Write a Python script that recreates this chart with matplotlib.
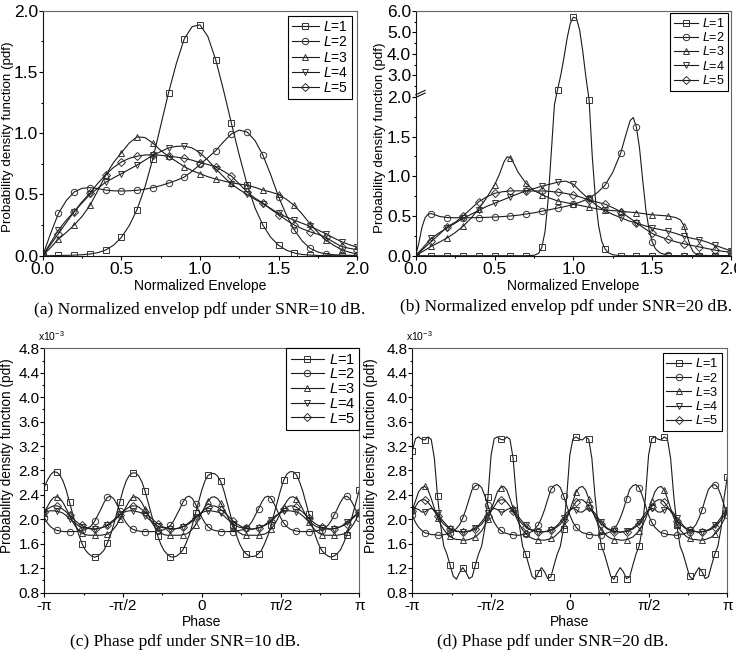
import numpy as np
import matplotlib
matplotlib.use('Agg')
import matplotlib.pyplot as plt
from matplotlib.ticker import MultipleLocator, FixedLocator, FormatStrFormatter

plt.rcParams['font.family'] = ['Liberation Sans', 'DejaVu Sans']
plt.rcParams['mathtext.fontset'] = 'custom'
plt.rcParams['mathtext.it'] = 'Liberation Sans:italic'
plt.rcParams['mathtext.rm'] = 'Liberation Sans'

# ---------------- data: normalized envelope pdf ----------------
x_env = np.linspace(0, 2, 41)

env10_L1 = [0, 0, 0.002, 0.003, 0.005, 0.008, 0.014, 0.025, 0.046, 0.085, 0.149, 0.245, 0.377, 0.56, 0.79,
            1.06, 1.33, 1.57, 1.77, 1.87, 1.885, 1.79, 1.60, 1.35, 1.08, 0.82, 0.58, 0.39, 0.25, 0.15,
            0.085, 0.045, 0.022, 0.01, 0.005, 0.002, 0.001, 0, 0, 0, 0]
env10_L2 = [0, 0.18, 0.345, 0.45, 0.52, 0.55, 0.556, 0.548, 0.536, 0.53, 0.528, 0.53, 0.534, 0.543, 0.556,
            0.572, 0.593, 0.615, 0.642, 0.69, 0.745, 0.80, 0.857, 0.93, 0.995, 1.025, 1.01, 0.94, 0.822, 0.66,
            0.48, 0.33, 0.21, 0.12, 0.06, 0.03, 0.014, 0.008, 0.005, 0.003, 0.002]
env10_L3 = [0, 0.065, 0.135, 0.19, 0.25, 0.32, 0.41, 0.53, 0.656, 0.76, 0.84, 0.92, 0.97, 0.965, 0.92,
            0.86, 0.81, 0.77, 0.727, 0.695, 0.67, 0.645, 0.626, 0.61, 0.596, 0.585, 0.575, 0.558, 0.536, 0.52,
            0.50, 0.46, 0.41, 0.34, 0.26, 0.19, 0.13, 0.085, 0.05, 0.028, 0.014]
env10_L4 = [0, 0.105, 0.21, 0.29, 0.36, 0.43, 0.50, 0.55, 0.60, 0.635, 0.67, 0.705, 0.74, 0.78, 0.82,
            0.85, 0.88, 0.893, 0.895, 0.88, 0.84, 0.78, 0.71, 0.645, 0.585, 0.54, 0.50, 0.46, 0.425, 0.385,
            0.345, 0.315, 0.29, 0.265, 0.24, 0.21, 0.18, 0.145, 0.115, 0.09, 0.07]
env10_L5 = [0, 0.09, 0.18, 0.27, 0.36, 0.44, 0.51, 0.59, 0.66, 0.72, 0.765, 0.795, 0.812, 0.822, 0.825,
            0.82, 0.812, 0.805, 0.795, 0.78, 0.76, 0.745, 0.725, 0.69, 0.65, 0.585, 0.52, 0.47, 0.43, 0.38,
            0.335, 0.29, 0.25, 0.22, 0.195, 0.175, 0.15, 0.11, 0.075, 0.06, 0.05]

env20_L1_x = [0, 0.1, 0.2, 0.3, 0.4, 0.5, 0.6, 0.7, 0.75, 0.78, 0.8, 0.82, 0.84, 0.86, 0.88, 0.9, 0.92,
              0.94, 0.96, 0.98, 1.0, 1.02, 1.04, 1.06, 1.08, 1.1, 1.12, 1.14, 1.16, 1.18, 1.2, 1.22, 1.25,
              1.3, 1.4, 1.5, 1.6, 1.7, 1.8, 1.9, 2.0]
env20_L1 = [0, 0, 0, 0, 0, 0, 0, 0, 0.005, 0.03, 0.105, 0.3, 0.7, 1.3, 1.9, 2.34, 3.0, 3.8, 4.7, 5.4,
            5.7, 5.65, 5.1, 4.1, 2.9, 1.96, 1.25, 0.72, 0.38, 0.18, 0.09, 0.04, 0.012, 0, 0, 0, 0, 0, 0, 0, 0]
env20_L2_x = [0, 0.02, 0.04, 0.06, 0.08, 0.1, 0.15, 0.2, 0.25, 0.3, 0.35, 0.4, 0.45, 0.5, 0.55, 0.6,
              0.65, 0.7, 0.75, 0.8, 0.85, 0.9, 0.95, 1.0, 1.05, 1.1, 1.15, 1.2, 1.25, 1.3, 1.33, 1.36,
              1.38, 1.4, 1.42, 1.44, 1.46, 1.48, 1.5, 1.52, 1.55, 1.6, 1.65, 1.7, 1.8, 1.9, 2.0]
env20_L2 = [0, 0.16, 0.36, 0.48, 0.525, 0.53, 0.495, 0.48, 0.478, 0.478, 0.478, 0.48, 0.483, 0.487,
            0.493, 0.50, 0.51, 0.525, 0.54, 0.56, 0.58, 0.60, 0.62, 0.645, 0.68, 0.725, 0.79, 0.885, 1.05,
            1.29, 1.5, 1.7, 1.74, 1.62, 1.35, 0.95, 0.58, 0.33, 0.176, 0.09, 0.035, 0.005, 0, 0, 0, 0, 0]
env20_L3_x = [0, 0.05, 0.1, 0.15, 0.2, 0.25, 0.3, 0.35, 0.4, 0.45, 0.5, 0.53, 0.56, 0.58, 0.6, 0.62,
              0.65, 0.7, 0.75, 0.8, 0.85, 0.9, 0.95, 1.0, 1.05, 1.1, 1.15, 1.2, 1.25, 1.3, 1.35, 1.4,
              1.45, 1.5, 1.55, 1.6, 1.65, 1.68, 1.7, 1.72, 1.74, 1.76, 1.78, 1.8, 1.9, 2.0]
env20_L3 = [0, 0.06, 0.12, 0.17, 0.225, 0.29, 0.37, 0.47, 0.59, 0.73, 0.89, 1.02, 1.18, 1.245, 1.235,
            1.17, 1.05, 0.91, 0.82, 0.77, 0.725, 0.69, 0.67, 0.65, 0.63, 0.61, 0.59, 0.575, 0.568, 0.56,
            0.55, 0.543, 0.528, 0.515, 0.508, 0.50, 0.48, 0.45, 0.38, 0.26, 0.13, 0.05, 0.015, 0.005, 0, 0]
env20_L4 = [0, 0.11, 0.22, 0.29, 0.35, 0.41, 0.47, 0.52, 0.57, 0.62, 0.66, 0.70, 0.74, 0.78, 0.815,
            0.845, 0.875, 0.90, 0.925, 0.94, 0.90, 0.80, 0.71, 0.63, 0.57, 0.52, 0.48, 0.44, 0.41, 0.38,
            0.35, 0.33, 0.31, 0.28, 0.245, 0.22, 0.20, 0.17, 0.13, 0.095, 0.06]
env20_L5 = [0, 0.09, 0.18, 0.27, 0.365, 0.42, 0.50, 0.59, 0.68, 0.74, 0.785, 0.805, 0.815, 0.817, 0.815,
            0.815, 0.815, 0.81, 0.80, 0.785, 0.765, 0.735, 0.70, 0.675, 0.65, 0.605, 0.555, 0.485, 0.415,
            0.345, 0.28, 0.24, 0.205, 0.175, 0.15, 0.13, 0.11, 0.09, 0.07, 0.055, 0.045]

# ---------------- data: phase pdf (x1e-3) ----------------
x_phase = np.linspace(-np.pi, np.pi, 101)

phase10_L1 = [
    2.53, 2.64, 2.73, 2.78, 2.77, 2.72, 2.62, 2.47, 2.28, 2.09, 1.90, 1.74, 1.60, 1.50, 1.44, 1.40, 1.38, 1.40, 1.44, 1.50, 1.61, 1.74, 1.91, 2.10, 2.29,
    2.48, 2.63, 2.72, 2.76, 2.76, 2.71, 2.61, 2.46, 2.27, 2.08, 1.89, 1.73, 1.59, 1.49, 1.43, 1.39, 1.38, 1.40, 1.44, 1.50, 1.61, 1.74, 1.91, 2.10, 2.29,
    2.48, 2.63, 2.72, 2.75, 2.75, 2.71, 2.62, 2.47, 2.28, 2.09, 1.90, 1.74, 1.60, 1.50, 1.44, 1.40, 1.39, 1.40, 1.44, 1.50, 1.61, 1.74, 1.91, 2.10, 2.29,
    2.48, 2.64, 2.74, 2.78, 2.78, 2.73, 2.62, 2.47, 2.28, 2.09, 1.90, 1.74, 1.60, 1.50, 1.44, 1.40, 1.38, 1.40, 1.44, 1.50, 1.61, 1.74, 1.91, 2.10, 2.29,
    2.48]
phase10_L2 = [
    2.03, 1.94, 1.88, 1.84, 1.82, 1.81, 1.80, 1.80, 1.80, 1.80, 1.80, 1.81, 1.82, 1.83, 1.86, 1.90, 1.97, 2.07, 2.17, 2.28, 2.36, 2.38, 2.34, 2.25, 2.14,
    2.03, 1.94, 1.88, 1.84, 1.82, 1.81, 1.80, 1.80, 1.80, 1.80, 1.80, 1.81, 1.82, 1.83, 1.86, 1.90, 1.97, 2.07, 2.17, 2.28, 2.36, 2.38, 2.34, 2.25, 2.14,
    2.03, 1.94, 1.88, 1.84, 1.82, 1.81, 1.80, 1.80, 1.80, 1.80, 1.80, 1.81, 1.82, 1.83, 1.86, 1.90, 1.97, 2.07, 2.17, 2.28, 2.36, 2.38, 2.34, 2.25, 2.14,
    2.03, 1.94, 1.88, 1.84, 1.82, 1.81, 1.80, 1.80, 1.80, 1.80, 1.80, 1.81, 1.82, 1.83, 1.86, 1.90, 1.97, 2.07, 2.17, 2.28, 2.36, 2.38, 2.34, 2.25, 2.14,
    2.03]
phase10_L3 = [
    2.11, 2.21, 2.30, 2.36, 2.37, 2.34, 2.27, 2.17, 2.07, 1.96, 1.88, 1.82, 1.78, 1.75, 1.74, 1.74, 1.74, 1.74, 1.74, 1.75, 1.76, 1.79, 1.84, 1.91, 2.00,
    2.11, 2.21, 2.30, 2.36, 2.37, 2.34, 2.27, 2.17, 2.07, 1.96, 1.88, 1.82, 1.78, 1.75, 1.74, 1.74, 1.74, 1.74, 1.74, 1.75, 1.76, 1.79, 1.84, 1.91, 2.00,
    2.11, 2.21, 2.30, 2.36, 2.37, 2.34, 2.27, 2.17, 2.07, 1.96, 1.88, 1.82, 1.78, 1.75, 1.74, 1.74, 1.74, 1.74, 1.74, 1.75, 1.76, 1.79, 1.84, 1.91, 2.00,
    2.11, 2.21, 2.30, 2.36, 2.37, 2.34, 2.27, 2.17, 2.07, 1.96, 1.88, 1.82, 1.78, 1.75, 1.74, 1.74, 1.74, 1.74, 1.74, 1.75, 1.76, 1.79, 1.84, 1.91, 2.00,
    2.11]
phase10_L4 = [
    2.11, 2.13, 2.14, 2.14, 2.13, 2.12, 2.10, 2.06, 2.01, 1.97, 1.93, 1.89, 1.87, 1.86, 1.85, 1.84, 1.84, 1.85, 1.86, 1.88, 1.91, 1.95, 1.99, 2.04, 2.08,
    2.11, 2.13, 2.14, 2.14, 2.13, 2.12, 2.10, 2.06, 2.01, 1.97, 1.93, 1.89, 1.87, 1.86, 1.85, 1.84, 1.84, 1.85, 1.86, 1.88, 1.91, 1.95, 1.99, 2.04, 2.08,
    2.11, 2.13, 2.14, 2.14, 2.13, 2.12, 2.10, 2.06, 2.01, 1.97, 1.93, 1.89, 1.87, 1.86, 1.85, 1.84, 1.84, 1.85, 1.86, 1.88, 1.91, 1.95, 1.99, 2.04, 2.08,
    2.11, 2.13, 2.14, 2.14, 2.13, 2.12, 2.10, 2.06, 2.01, 1.97, 1.93, 1.89, 1.87, 1.86, 1.85, 1.84, 1.84, 1.85, 1.86, 1.88, 1.91, 1.95, 1.99, 2.04, 2.08,
    2.11]
phase10_L5 = [
    2.12, 2.17, 2.20, 2.22, 2.22, 2.20, 2.16, 2.12, 2.07, 2.02, 1.97, 1.93, 1.90, 1.87, 1.86, 1.85, 1.84, 1.85, 1.86, 1.88, 1.90, 1.93, 1.97, 2.02, 2.07,
    2.12, 2.17, 2.20, 2.22, 2.22, 2.20, 2.16, 2.12, 2.07, 2.02, 1.97, 1.93, 1.90, 1.87, 1.86, 1.85, 1.84, 1.85, 1.86, 1.88, 1.90, 1.93, 1.97, 2.02, 2.07,
    2.12, 2.17, 2.20, 2.22, 2.22, 2.20, 2.16, 2.12, 2.07, 2.02, 1.97, 1.93, 1.90, 1.87, 1.86, 1.85, 1.84, 1.85, 1.86, 1.88, 1.90, 1.93, 1.97, 2.02, 2.07,
    2.12, 2.17, 2.20, 2.22, 2.22, 2.20, 2.16, 2.12, 2.07, 2.02, 1.97, 1.93, 1.90, 1.87, 1.86, 1.85, 1.84, 1.85, 1.86, 1.88, 1.90, 1.93, 1.97, 2.02, 2.07,
    2.12]

phase20_L1 = [
    3.12, 3.32, 3.35, 3.31, 3.30, 3.35, 3.31, 3.00, 2.38, 1.90, 1.56, 1.43, 1.25, 1.07, 1.02, 1.13, 1.21, 1.14, 1.03, 1.06, 1.25, 1.43, 1.56, 1.85, 2.36,
    3.05, 3.32, 3.35, 3.31, 3.30, 3.35, 3.31, 3.00, 2.38, 1.90, 1.56, 1.43, 1.25, 1.07, 1.02, 1.13, 1.21, 1.14, 1.03, 1.06, 1.25, 1.43, 1.56, 1.85, 2.36,
    3.05, 3.32, 3.35, 3.31, 3.30, 3.35, 3.31, 3.00, 2.38, 1.90, 1.56, 1.43, 1.25, 1.07, 1.02, 1.13, 1.21, 1.14, 1.03, 1.06, 1.25, 1.43, 1.56, 1.85, 2.36,
    3.05, 3.32, 3.35, 3.31, 3.30, 3.35, 3.31, 3.00, 2.38, 1.90, 1.56, 1.43, 1.25, 1.07, 1.02, 1.13, 1.21, 1.14, 1.03, 1.06, 1.25, 1.43, 1.56, 1.85, 2.36,
    2.70]
phase20_L2 = [
    2.07, 1.95, 1.87, 1.82, 1.78, 1.77, 1.75, 1.75, 1.74, 1.74, 1.75, 1.76, 1.78, 1.80, 1.85, 1.91, 2.02, 2.16, 2.33, 2.49, 2.55, 2.57, 2.52, 2.39, 2.23,
    2.07, 1.95, 1.87, 1.82, 1.78, 1.77, 1.75, 1.75, 1.74, 1.74, 1.75, 1.76, 1.78, 1.80, 1.85, 1.91, 2.02, 2.16, 2.33, 2.49, 2.55, 2.57, 2.52, 2.39, 2.23,
    2.07, 1.95, 1.87, 1.82, 1.78, 1.77, 1.75, 1.75, 1.74, 1.74, 1.75, 1.76, 1.78, 1.80, 1.85, 1.91, 2.02, 2.16, 2.33, 2.49, 2.55, 2.57, 2.52, 2.39, 2.23,
    2.07, 1.95, 1.87, 1.82, 1.78, 1.77, 1.75, 1.75, 1.74, 1.74, 1.75, 1.76, 1.78, 1.80, 1.85, 1.91, 2.02, 2.16, 2.33, 2.49, 2.55, 2.57, 2.52, 2.39, 2.23,
    2.07]
phase20_L3 = [
    2.15, 2.30, 2.45, 2.52, 2.54, 2.48, 2.34, 2.18, 2.03, 1.92, 1.83, 1.77, 1.72, 1.69, 1.67, 1.67, 1.66, 1.66, 1.67, 1.69, 1.71, 1.76, 1.81, 1.90, 2.00,
    2.15, 2.30, 2.45, 2.52, 2.54, 2.48, 2.34, 2.18, 2.03, 1.92, 1.83, 1.77, 1.72, 1.69, 1.67, 1.67, 1.66, 1.66, 1.67, 1.69, 1.71, 1.76, 1.81, 1.90, 2.00,
    2.15, 2.30, 2.45, 2.52, 2.54, 2.48, 2.34, 2.18, 2.03, 1.92, 1.83, 1.77, 1.72, 1.69, 1.67, 1.67, 1.66, 1.66, 1.67, 1.69, 1.71, 1.76, 1.81, 1.90, 2.00,
    2.15, 2.30, 2.45, 2.52, 2.54, 2.48, 2.34, 2.18, 2.03, 1.92, 1.83, 1.77, 1.72, 1.69, 1.67, 1.67, 1.66, 1.66, 1.67, 1.69, 1.71, 1.76, 1.81, 1.90, 2.00,
    2.15]
phase20_L4 = [
    2.15, 2.18, 2.16, 2.12, 2.12, 2.16, 2.18, 2.15, 2.10, 2.02, 1.96, 1.90, 1.85, 1.83, 1.81, 1.80, 1.79, 1.80, 1.81, 1.83, 1.86, 1.90, 1.96, 2.03, 2.11,
    2.15, 2.18, 2.16, 2.12, 2.12, 2.16, 2.18, 2.15, 2.10, 2.02, 1.96, 1.90, 1.85, 1.83, 1.81, 1.80, 1.79, 1.80, 1.81, 1.83, 1.86, 1.90, 1.96, 2.03, 2.11,
    2.15, 2.18, 2.16, 2.12, 2.12, 2.16, 2.18, 2.15, 2.10, 2.02, 1.96, 1.90, 1.85, 1.83, 1.81, 1.80, 1.79, 1.80, 1.81, 1.83, 1.86, 1.90, 1.96, 2.03, 2.11,
    2.15, 2.18, 2.16, 2.12, 2.12, 2.16, 2.18, 2.15, 2.10, 2.02, 1.96, 1.90, 1.85, 1.83, 1.81, 1.80, 1.79, 1.80, 1.81, 1.83, 1.86, 1.90, 1.96, 2.03, 2.11,
    2.15]
phase20_L5 = [
    2.14, 2.21, 2.29, 2.32, 2.32, 2.28, 2.21, 2.13, 2.06, 1.98, 1.92, 1.88, 1.84, 1.82, 1.80, 1.80, 1.79, 1.80, 1.80, 1.82, 1.84, 1.88, 1.92, 1.99, 2.06,
    2.14, 2.21, 2.29, 2.32, 2.32, 2.28, 2.21, 2.13, 2.06, 1.98, 1.92, 1.88, 1.84, 1.82, 1.80, 1.80, 1.79, 1.80, 1.80, 1.82, 1.84, 1.88, 1.92, 1.99, 2.06,
    2.14, 2.21, 2.29, 2.32, 2.32, 2.28, 2.21, 2.13, 2.06, 1.98, 1.92, 1.88, 1.84, 1.82, 1.80, 1.80, 1.79, 1.80, 1.80, 1.82, 1.84, 1.88, 1.92, 1.99, 2.06,
    2.14, 2.21, 2.29, 2.32, 2.32, 2.28, 2.21, 2.13, 2.06, 1.98, 1.92, 1.88, 1.84, 1.82, 1.80, 1.80, 1.79, 1.80, 1.80, 1.82, 1.84, 1.88, 1.92, 1.99, 2.06,
    2.14]

series_labels = [r'$L$=1', r'$L$=2', r'$L$=3', r'$L$=4', r'$L$=5']
markers = ['s', 'o', '^', 'v', 'D']
msizes = [4.5, 4.6, 4.8, 4.8, 3.8]
phase_ticks = [-np.pi, -np.pi / 2, 0, np.pi / 2, np.pi]
phase_ticklabels = ['-\u03c0', '-\u03c0/2', '0', '\u03c0/2', '\u03c0']


def tenths(x):
    return [i for i, v in enumerate(x) if abs(v * 10 - round(v * 10)) < 1e-6]


def draw(ax, x, y, i, every):
    ax.plot(x, y, color='#1a1a1a', lw=0.8, marker=markers[i], ms=msizes[i], mfc='none',
            mec='#333333', mew=0.7, markevery=every, label=series_labels[i])


def style(ax, tick_size):
    for s in ['left', 'bottom']:
        ax.spines[s].set_color('#111111')
    for s in ['top', 'right']:
        ax.spines[s].set_color('#666666')
    for s in ax.spines.values():
        s.set_linewidth(0.8)
    ax.tick_params(which='both', direction='out', top=False, right=False,
                   labelsize=tick_size, width=0.8)
    ax.tick_params(axis='x', pad=2)
    ax.tick_params(axis='y', pad=0.6)
    ax.tick_params(which='major', length=2.6)
    ax.tick_params(which='minor', length=1.6)


def add_legend(ax, size, pad, hl, spacing):
    leg = ax.legend(loc='upper right', fontsize=size, frameon=True, fancybox=False,
                    edgecolor='black', framealpha=1, borderaxespad=pad, handlelength=hl,
                    handletextpad=0.3, labelspacing=spacing, borderpad=0.3)
    leg.get_frame().set_linewidth(0.8)


fig = plt.figure(figsize=(7.36, 6.51), dpi=100)

# (a) envelope, SNR=10 dB
ax = fig.add_axes([0.058, 0.6072, 0.4274, 0.3763])
for i, y in enumerate([env10_L1, env10_L2, env10_L3, env10_L4, env10_L5]):
    draw(ax, x_env, y, i, 2)
ax.set_xlim(0, 2)
ax.set_ylim(0, 2)
ax.xaxis.set_major_locator(MultipleLocator(0.5))
ax.xaxis.set_minor_locator(MultipleLocator(0.25))
ax.yaxis.set_major_locator(MultipleLocator(0.5))
ax.yaxis.set_minor_locator(MultipleLocator(0.25))
ax.xaxis.set_major_formatter(FormatStrFormatter('%.1f'))
ax.yaxis.set_major_formatter(FormatStrFormatter('%.1f'))
style(ax, 12.5)
ax.set_xlabel('Normalized Envelope', fontsize=10)
ax.set_ylabel('Probability density function (pdf)', fontsize=9.6)
ax.xaxis.set_label_coords(0.5, -0.095)
ax.yaxis.set_label_coords(-0.091, 0.484)
add_legend(ax, 10, 0.35, 1.95, 0.1)

# (b) envelope, SNR=20 dB with broken y axis
def fwd(y):
    y = np.asarray(y, dtype=float)
    return np.where(y <= 2, y, 2 + (y - 2) * 0.271)


def inv(z):
    z = np.asarray(z, dtype=float)
    return np.where(z <= 2, z, 2 + (z - 2) / 0.271)


ax = fig.add_axes([0.5648, 0.6072, 0.4284, 0.3763])
ax.set_yscale('function', functions=(fwd, inv))
draw(ax, env20_L1_x, env20_L1, 0, tenths(env20_L1_x))
draw(ax, env20_L2_x, env20_L2, 1, tenths(env20_L2_x))
draw(ax, env20_L3_x, env20_L3, 2, tenths(env20_L3_x))
draw(ax, x_env, env20_L4, 3, 2)
draw(ax, x_env, env20_L5, 4, 2)
ax.set_xlim(0, 2)
ax.set_ylim(0, 6)
ax.xaxis.set_major_locator(MultipleLocator(0.5))
ax.xaxis.set_minor_locator(MultipleLocator(0.25))
ax.yaxis.set_major_locator(FixedLocator([0, 0.5, 1.0, 1.5, 2.0, 3.0, 4.0, 5.0, 6.0]))
ax.yaxis.set_minor_locator(FixedLocator([0.25, 0.75, 1.25, 1.75, 2.5, 3.5, 4.5, 5.5]))
ax.xaxis.set_major_formatter(FormatStrFormatter('%.1f'))
ax.yaxis.set_major_formatter(FormatStrFormatter('%.1f'))
style(ax, 12.5)
ax.set_xlabel('Normalized Envelope', fontsize=10)
ax.set_ylabel('Probability density function (pdf)', fontsize=9.6)
ax.xaxis.set_label_coords(0.5, -0.095)
ax.yaxis.set_label_coords(-0.094, 0.48)
for dy in (0.0, 0.011):
    ax.plot([0.0, 0.03], [0.646 + dy, 0.664 + dy], transform=ax.transAxes,
            color='#111111', lw=0.8, clip_on=False)
add_legend(ax, 9, 0.2, 1.95, 0.1)

# (c) phase, SNR=10 dB
ax = fig.add_axes([0.0602, 0.0896, 0.4280, 0.3754])
for i, y in enumerate([phase10_L1, phase10_L2, phase10_L3, phase10_L4, phase10_L5]):
    draw(ax, x_phase, y, i, 4)
ax.set_xlim(-np.pi, np.pi)
ax.set_ylim(0.8, 4.8)
ax.xaxis.set_major_locator(FixedLocator(phase_ticks))
ax.xaxis.set_minor_locator(FixedLocator([-3 * np.pi / 4, -np.pi / 4, np.pi / 4, 3 * np.pi / 4]))
ax.set_xticklabels(phase_ticklabels)
ax.yaxis.set_major_locator(MultipleLocator(0.4))
ax.yaxis.set_minor_locator(MultipleLocator(0.2))
ax.yaxis.set_major_formatter(FormatStrFormatter('%.1f'))
style(ax, 11)
ax.set_xlabel('Phase', fontsize=10)
ax.set_ylabel('Probability density function (pdf)', fontsize=9.8)
ax.xaxis.set_label_coords(0.5, -0.091)
ax.yaxis.set_label_coords(-0.095, 0.56)
add_legend(ax, 10.5, 0.0, 2.3, 0.05)

# (d) phase, SNR=20 dB
ax = fig.add_axes([0.5602, 0.0896, 0.4280, 0.3754])
for i, y in enumerate([phase20_L1, phase20_L2, phase20_L3, phase20_L4, phase20_L5]):
    draw(ax, x_phase, y, i, 4)
ax.set_xlim(-np.pi, np.pi)
ax.set_ylim(0.8, 4.8)
ax.xaxis.set_major_locator(FixedLocator(phase_ticks))
ax.xaxis.set_minor_locator(FixedLocator([-3 * np.pi / 4, -np.pi / 4, np.pi / 4, 3 * np.pi / 4]))
ax.set_xticklabels(phase_ticklabels)
ax.yaxis.set_major_locator(MultipleLocator(0.4))
ax.yaxis.set_minor_locator(MultipleLocator(0.2))
ax.yaxis.set_major_formatter(FormatStrFormatter('%.1f'))
style(ax, 11)
ax.set_xlabel('Phase', fontsize=10)
ax.set_ylabel('Probability density function (pdf)', fontsize=9.8)
ax.xaxis.set_label_coords(0.5, -0.091)
ax.yaxis.set_label_coords(-0.11, 0.56)
add_legend(ax, 9.2, 0.4, 1.95, 0.1)

# multiplier labels
fig.text(37.7 / 736, 1 - 341 / 651, r'x10$^{-3}$', fontsize=7.5, ha='left', va='baseline')
fig.text(405.7 / 736, 1 - 341 / 651, r'x10$^{-3}$', fontsize=7.5, ha='left', va='baseline')

# captions
cap = dict(family=['Liberation Serif', 'DejaVu Serif'], fontsize=12.5, ha='center', va='center')
fig.text(200 / 736, 1 - 310 / 651, '(a) Normalized envelop pdf under SNR=10 dB.', **cap)
fig.text(566 / 736, 1 - 307 / 651, '(b) Normalized envelop pdf under SNR=20 dB.', **cap)
fig.text(185 / 736, 1 - 641.5 / 651, '(c) Phase pdf under SNR=10 dB.', **cap)
fig.text(553 / 736, 1 - 642 / 651, '(d) Phase pdf under SNR=20 dB.', **cap)

fig.savefig('out.png', dpi=100)
